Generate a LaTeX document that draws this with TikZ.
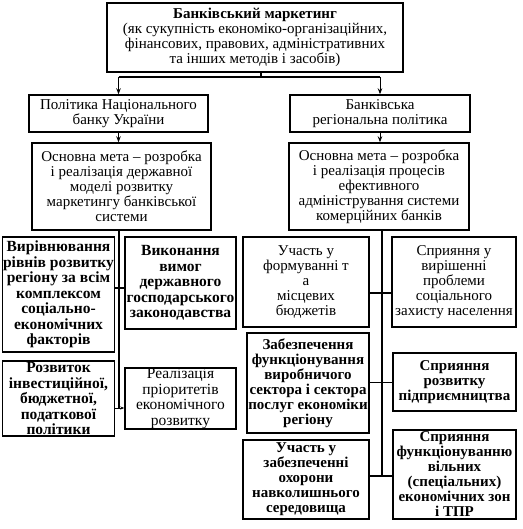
\documentclass[tikz,border=0pt]{standalone}
\usepackage{fontspec}
\setmainfont{Liberation Serif}
\usetikzlibrary{arrows.meta}
\begin{document}
\begin{tikzpicture}[x=1pt,y=-1pt,
  box/.style={draw, line width=1.4pt, inner sep=0pt, align=center,
    font=\fontsize{15}{15}\selectfont},
  bbox/.style={box, font=\fontsize{15}{15}\selectfont\bfseries},
  lbox/.style={box, font=\fontsize{15.5}{15.5}\selectfont\bfseries},
  conn/.style={line width=1.3pt},
  thin/.style={line width=0.7pt},
  arr/.style={line width=1pt, -{Stealth[length=6pt,width=4.5pt]}}]
\useasboundingbox (0,0) rectangle (522,529);

\node[box, minimum width=296pt, minimum height=69pt] (top) at (255,37.5)
  {\textbf{Банківський маркетинг}\\(як сукупність економіко-організаційних,\\фінансових, правових, адміністративних\\та інших методів і засобів)};
\node[box, minimum width=179pt, minimum height=37pt] (pol) at (118.5,113.5)
  {Політика Національного\\банку України};
\node[box, minimum width=180pt, minimum height=37pt] (reg) at (380,113.5)
  {Банківська\\регіональна політика};
\node[box, minimum width=179pt, minimum height=87pt] (goal1) at (121.5,186.5)
  {Основна мета – розробка\\і реалізація державної\\моделі розвитку\\маркетингу банківської\\системи};
\node[box, minimum width=180pt, minimum height=87pt] (goal2) at (379,186.5)
  {Основна мета – розробка\\і реалізація процесів\\ефективного\\адміністрування системи\\комерційних банків};

\node[lbox, minimum width=112pt, minimum height=115pt] (l1) at (58.5,294.5)
  {Вирівнювання\\рівнів розвитку\\регіону за всім\\комплексом\\соціально-\\економічних\\факторів};
\node[lbox, minimum width=111pt, minimum height=92pt] (l2) at (180.5,283)
  {Виконання\\вимог\\державного\\господарського\\законодавства};
\node[lbox, minimum width=112pt, minimum height=75pt] (l3) at (58.5,398.5)
  {Розвиток\\інвестиційної,\\бюджетної,\\податкової\\політики};
\node[box, font=\fontsize{15.5}{15.5}\selectfont, minimum width=111pt, minimum height=61pt] (l4) at (180.5,398.5)
  {Реалізація\\пріоритетів\\економічного\\розвитку};

\node[box, minimum width=126pt, minimum height=90pt] (r1) at (306,282)
  {Участь у\\формуванні т\\а\\місцевих\\бюджетів};
\node[box, minimum width=124pt, minimum height=90pt] (r2) at (454,282)
  {Сприяння у\\вирішенні\\проблеми\\соціального\\захисту населення};
\node[bbox, minimum width=122pt, minimum height=100pt] (r3) at (308,383)
  {Забезпечення\\функціонування\\виробничого\\сектора і сектора\\послуг економіки\\регіону};
\node[bbox, minimum width=123pt, minimum height=58pt] (r4) at (454.5,382)
  {Сприяння\\розвитку\\підприємництва};
\node[bbox, minimum width=126pt, minimum height=79pt] (r5) at (306,479.5)
  {Участь у\\забезпеченні\\охорони\\навколишнього\\середовища};
\node[bbox, minimum width=123pt, minimum height=89pt] (r6) at (454.5,474.5)
  {Сприяння\\функціонуванню\\вільних\\(спеціальних)\\економічних зон\\і ТПР};

% top split
\coordinate (j1) at (261,77);
\draw[conn] (top.south -| j1) -- (j1);
\draw[conn] (j1 -| pol.north) -- (j1 -| reg.north);
\draw[arr] (j1 -| pol.north) -- (pol.north);
\draw[arr] (j1 -| reg.north) -- (reg.north);
\draw[arr] (pol.south) -- (goal1.north -| pol.south);
\draw[arr] (reg.south) -- (goal2.north -| reg.south);

% left trunk
\coordinate (lt1) at (119,288);
\coordinate (lt2) at (119,408);
\draw[conn] (goal1.south -| lt1) -- (lt2);
\draw[conn] (l1.east |- lt1) -- (l2.west |- lt1);
\draw[thin, -{Stealth[length=4pt,width=3pt]}] (l3.east |- lt2) -- (l4.west |- lt2);

% right trunk
\coordinate (rt1) at (382,293);
\coordinate (rt2) at (382,382);
\coordinate (rt3) at (382,476);
\draw[conn] (goal2.south -| rt1) -- (rt3);
\draw[conn] (r1.east |- rt1) -- (r2.west |- rt1);
\draw[thin] (r3.east |- rt2) -- (r4.west |- rt2);
\draw[conn] (r5.east |- rt3) -- (r6.west |- rt3);
\end{tikzpicture}
\end{document}
